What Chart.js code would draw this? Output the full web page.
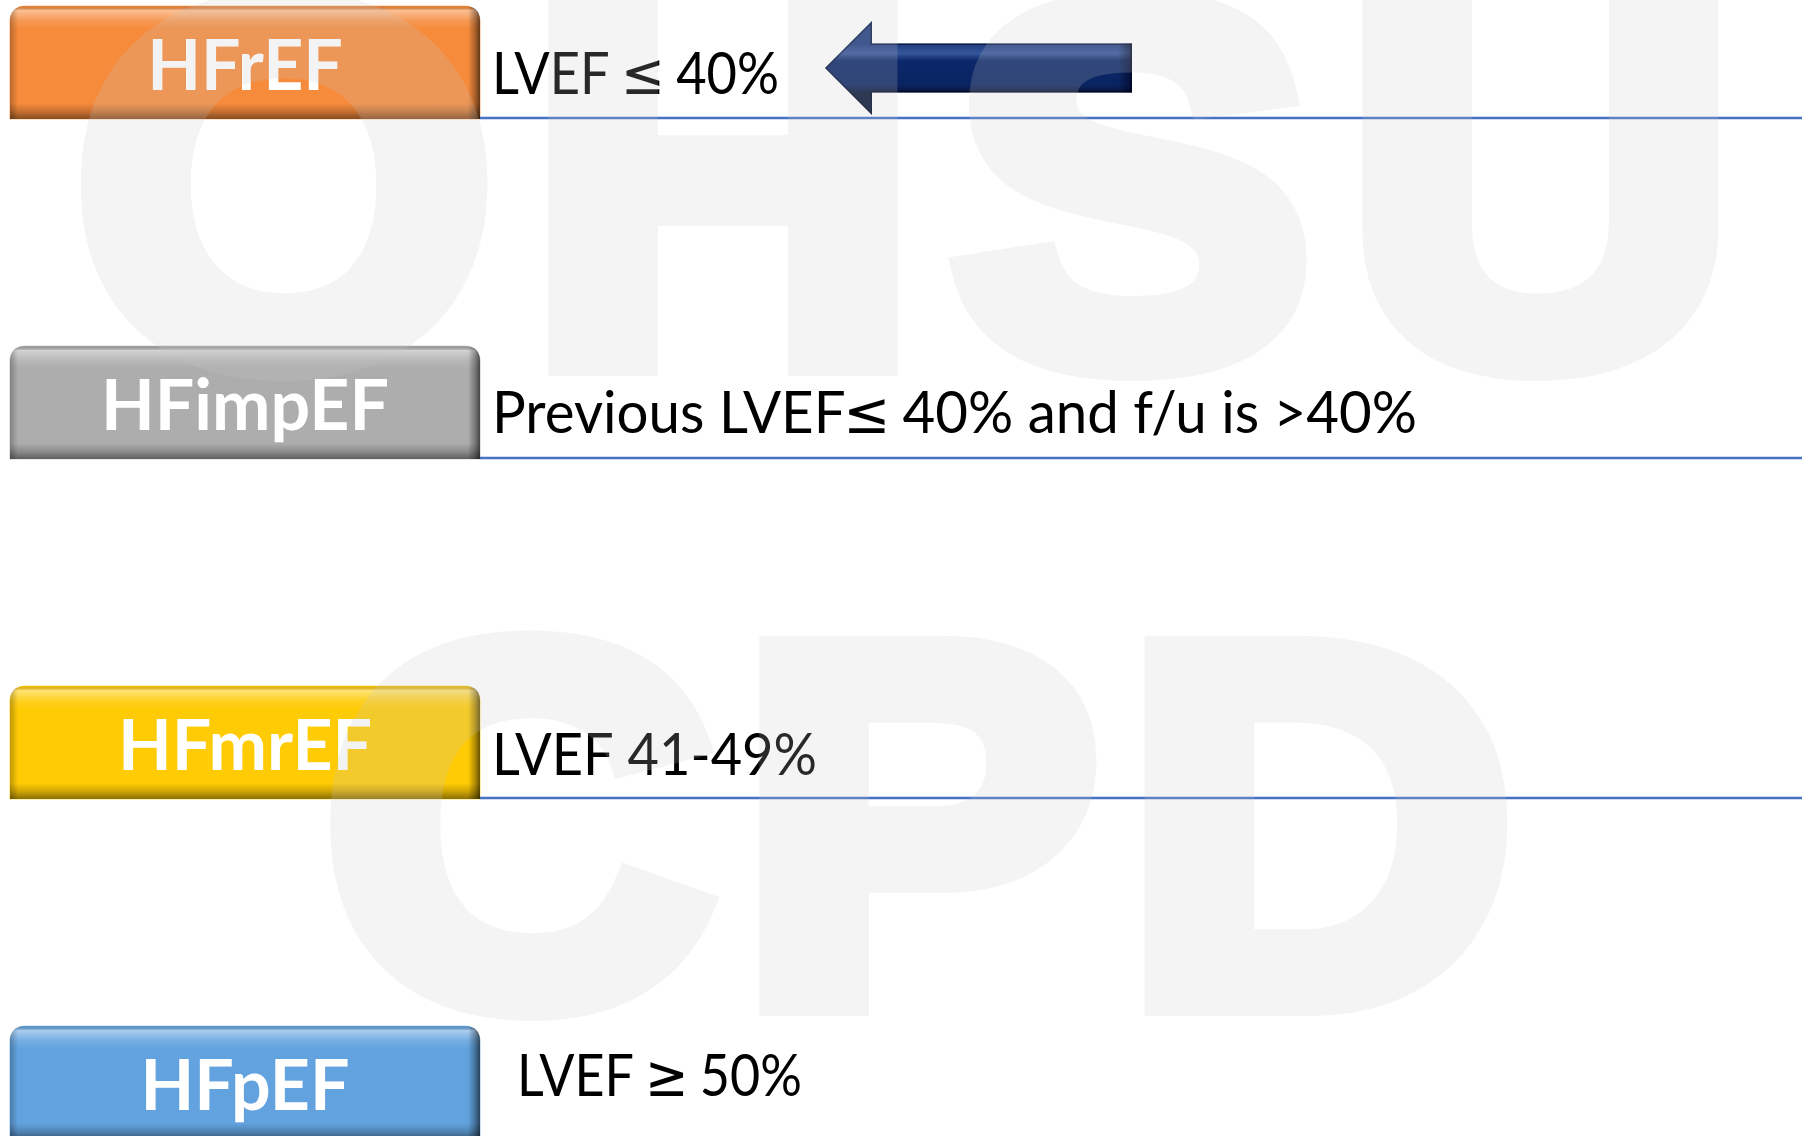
<!DOCTYPE html>
<html>
<head>
<meta charset="utf-8">
<script src="https://cdn.jsdelivr.net/npm/chart.js@4.4.1/dist/chart.umd.min.js"></script>
<style>
  html, body { margin: 0; padding: 0; background: #fff; overflow: hidden; }
  .wrapper { width: 1802px; height: 1136px; position: relative; }
</style>
</head>
<body>
<div class="wrapper"><canvas id="Chart"></canvas></div>
<script>
// categories and their definitions
const categories = ['HFrEF', 'HFimpEF', 'HFmrEF', 'HFpEF'];
const criteria = ['LVEF ≤ 40%', 'Previous LVEF≤ 40% and f/u is >40%', 'LVEF 41-49%', 'LVEF ≥ 50%'];
const boxValues = [1, 1, 1, 1];
const watermarkWords = ['OHSU', 'CPD'];
const arrowRow = 0;

// styles
const boxColors = ['#F68B3C', '#ADADAD', '#FFCB05', '#62A3DF'];
const descNudge = [[0, 10], [0, 9], [0, 11], [25, -8]]; // x, y shift of the definition text
const descFitWidth = [287, 925, 325, 285];            // width the definition text is squeezed to
const lineColor = '#4472C4';
const DESC_SIZE = 58;

function labelFont() { return 'bold 70px Lato, "Open Sans", sans-serif'; }

// draw text in Lato, but the math signs in DejaVu Sans (bigger, like Calibri's)
function textRuns(str) {
  const runs = [];
  str.split(/([≤≥])/).forEach(function(s) {
    if (!s) return;
    const sym = s === '≤' || s === '≥';
    runs.push({ s: s, sym: sym, font: sym ? DESC_SIZE + 'px "DejaVu Sans", sans-serif' : DESC_SIZE + 'px Lato, "Open Sans", sans-serif' });
  });
  return runs;
}
function runAdvance(ctx, r) {
  ctx.font = r.font;
  const w = ctx.measureText(r.s).width;
  return r.sym ? w * 0.9 : w;
}
function runsWidth(ctx, str) {
  let w = 0;
  textRuns(str).forEach(function(r) { w += runAdvance(ctx, r); });
  return w;
}
function drawRuns(ctx, str) {
  let x = 0;
  textRuns(str).forEach(function(r) {
    const a = runAdvance(ctx, r);
    ctx.font = r.font;
    const full = ctx.measureText(r.s).width;
    ctx.fillText(r.s, x - (full - a) / 2, 0);
    x += a;
  });
}

function roundTopRect(ctx, l, t, w, h, r) {
  ctx.beginPath();
  ctx.moveTo(l, t + h);
  ctx.lineTo(l, t + r);
  ctx.quadraticCurveTo(l, t, l + r, t);
  ctx.lineTo(l + w - r, t);
  ctx.quadraticCurveTo(l + w, t, l + w, t + r);
  ctx.lineTo(l + w, t + h);
  ctx.closePath();
}

const boxPlugin = {
  id: 'boxes',
  afterDatasetsDraw(chart) {
    const ctx = chart.ctx;
    const meta = chart.getDatasetMeta(0);

    ctx.save();
    ctx.font = labelFont();
    const labelSx = 288 / ctx.measureText(categories[1]).width;
    ctx.font = DESC_SIZE + 'px Lato';
    const capD = ctx.measureText('H').actualBoundingBoxAscent;
    ctx.restore();

    meta.data.forEach(function(bar, i) {
      const p = bar.getProps(['x', 'y', 'base', 'height'], true);
      const left = Math.min(p.x, p.base), right = Math.max(p.x, p.base);
      const top = p.y - p.height / 2, bottom = p.y + p.height / 2;
      const w = right - left, h = bottom - top;

      // bevel shading over the bar
      ctx.save();
      roundTopRect(ctx, left, top, w, h, 15);
      ctx.clip();
      let g = ctx.createLinearGradient(0, top, 0, bottom);
      g.addColorStop(0, 'rgba(0,0,0,0.05)');
      g.addColorStop(0.04, 'rgba(255,255,255,0.45)');
      g.addColorStop(0.13, 'rgba(255,255,255,0.12)');
      g.addColorStop(0.2, 'rgba(255,255,255,0)');
      g.addColorStop(0.86, 'rgba(0,0,0,0)');
      g.addColorStop(0.93, 'rgba(0,0,0,0.18)');
      g.addColorStop(1, 'rgba(0,0,0,0.45)');
      ctx.fillStyle = g;
      ctx.fillRect(left, top, w, h);
      g = ctx.createLinearGradient(left, 0, right, 0);
      g.addColorStop(0, 'rgba(0,0,0,0.25)');
      g.addColorStop(8 / w, 'rgba(0,0,0,0)');
      g.addColorStop(1 - 12 / w, 'rgba(0,0,0,0)');
      g.addColorStop(1 - 5 / w, 'rgba(0,0,0,0.3)');
      g.addColorStop(1, 'rgba(0,0,0,0.6)');
      ctx.fillStyle = g;
      ctx.fillRect(left, top, w, h);
      ctx.restore();

      // category label inside the box
      ctx.save();
      ctx.font = labelFont();
      ctx.fillStyle = '#ffffff';
      ctx.textBaseline = 'alphabetic';
      const lw = ctx.measureText(categories[i]).width;
      const capL = ctx.measureText('H').actualBoundingBoxAscent;
      ctx.translate((left + right) / 2, p.y + capL / 2 + 2);
      ctx.scale(labelSx, 1);
      ctx.fillText(categories[i], -lw / 2, 0);
      ctx.restore();

      // rule under the definition
      ctx.save();
      ctx.strokeStyle = lineColor;
      ctx.lineWidth = 2.5;
      ctx.beginPath();
      ctx.moveTo(right, bottom - 1);
      ctx.lineTo(chart.width, bottom - 1);
      ctx.stroke();
      ctx.restore();

      // definition text
      ctx.save();
      ctx.fillStyle = '#000000';
      const dx = right + 12 + descNudge[i][0];
      const dy = p.y + descNudge[i][1] + capD / 2;
      const sx = descFitWidth[i] / runsWidth(ctx, criteria[i]);
      ctx.translate(dx, dy);
      ctx.scale(sx, 1);
      drawRuns(ctx, criteria[i]);
      ctx.restore();

      if (i === arrowRow) drawArrow(ctx, dx + descFitWidth[i] + 46, p.y + 5.5);
    });
  }
};

function drawArrow(ctx, tipX, cy) {
  const headW = 47, headH = 47, shaftH = 24.5, len = 307;
  ctx.save();
  ctx.beginPath();
  ctx.moveTo(tipX, cy);
  ctx.lineTo(tipX + headW, cy - headH);
  ctx.lineTo(tipX + headW, cy - shaftH);
  ctx.lineTo(tipX + len, cy - shaftH);
  ctx.lineTo(tipX + len, cy + shaftH);
  ctx.lineTo(tipX + headW, cy + shaftH);
  ctx.lineTo(tipX + headW, cy + headH);
  ctx.closePath();
  const g = ctx.createLinearGradient(0, cy - shaftH, 0, cy + shaftH);
  g.addColorStop(0, '#1E3C7E');
  g.addColorStop(0.2, '#35569A');
  g.addColorStop(0.35, '#0B286A');
  g.addColorStop(0.85, '#0A2462');
  g.addColorStop(1, '#061536');
  ctx.fillStyle = g;
  ctx.fill();
  ctx.clip();
  // dark bevel at the tail end
  const g2 = ctx.createLinearGradient(tipX + len - 14, 0, tipX + len, 0);
  g2.addColorStop(0, 'rgba(0,0,20,0)');
  g2.addColorStop(1, 'rgba(0,0,20,0.6)');
  ctx.fillStyle = g2;
  ctx.fillRect(tipX + len - 14, cy - headH, 14, headH * 2);
  ctx.strokeStyle = 'rgba(0,0,30,0.55)';
  ctx.lineWidth = 3;
  ctx.stroke();
  ctx.restore();
}

const watermarkPlugin = {
  id: 'watermark',
  afterDraw(chart) {
    const off = document.createElement('canvas');
    off.width = chart.width;
    off.height = chart.height;
    const o = off.getContext('2d');
    const spec = [
      { word: watermarkWords[0], center: 905, width: 1661, baseline: 361 },
      { word: watermarkWords[1], center: 919, width: 1190, baseline: 1001 }
    ];
    o.font = 'bold 509px "Liberation Sans", Arial, sans-serif';
    o.fillStyle = '#c8c8c8';
    o.strokeStyle = '#c8c8c8';
    o.lineWidth = 30;
    o.lineJoin = 'miter';
    const sx = 1.06;
    spec.forEach(function(s) {
      const chars = s.word.split('');
      const adv = chars.map(function(c) { return o.measureText(c).width; });
      const total = adv.reduce(function(a, b) { return a + b; }, 0);
      const sp = (s.width / sx - total) / (chars.length - 1);
      o.save();
      o.translate(s.center, s.baseline);
      o.scale(sx, 1);
      let x = -(total + sp * (chars.length - 1)) / 2;
      chars.forEach(function(c, k) {
        o.fillText(c, x, 0);
        o.strokeText(c, x, 0);
        x += adv[k] + sp;
      });
      o.restore();
    });
    const ctx = chart.ctx;
    ctx.save();
    ctx.globalAlpha = 0.2;
    ctx.drawImage(off, 0, 0);
    ctx.restore();
  }
};

const ctx = document.getElementById('Chart');
const myChart = new Chart(ctx, {
  type: 'bar',
  data: {
    labels: categories,
    datasets: [{
      data: boxValues,
      backgroundColor: boxColors,
      borderWidth: 0,
      borderSkipped: false,
      borderRadius: { topLeft: 15, topRight: 15, bottomLeft: 0, bottomRight: 0 },
      barThickness: 113,
      clip: false
    }]
  },
  options: {
    indexAxis: 'y',
    responsive: true,
    maintainAspectRatio: false,
    animation: false,
    layout: { padding: { left: 10, right: 0, top: 62.5, bottom: 53.5 } },
    scales: {
      x: { type: 'linear', min: 0, max: 1792 / 470, display: false },
      y: { type: 'category', offset: false, display: false }
    },
    plugins: { legend: { display: false }, tooltip: { enabled: false } }
  },
  plugins: [boxPlugin, watermarkPlugin]
});
</script>
</body>
</html>
